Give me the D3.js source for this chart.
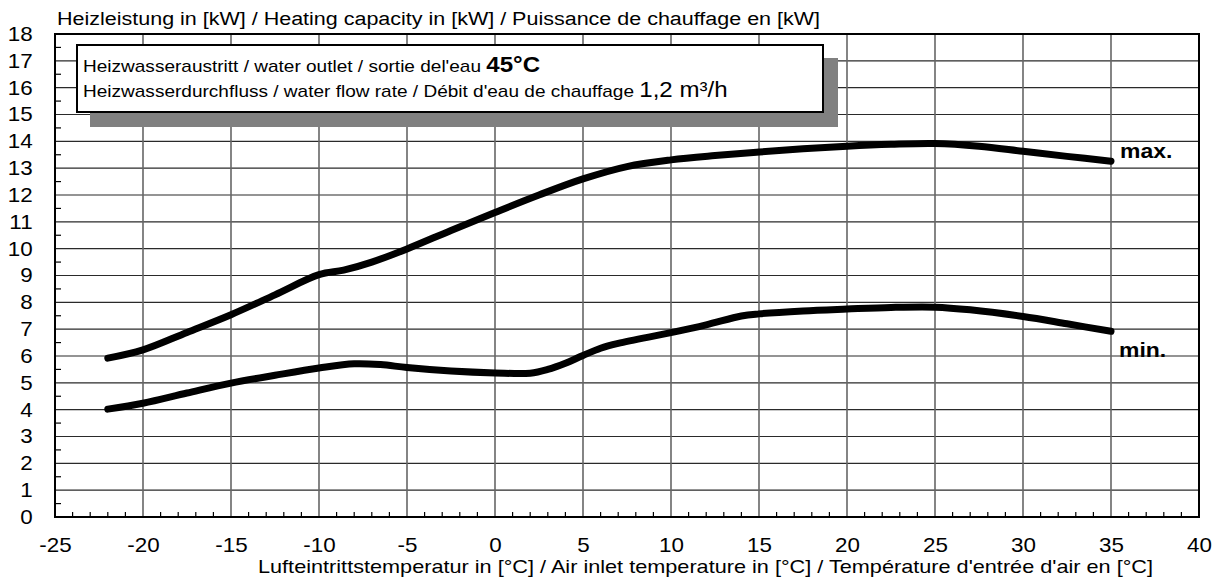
<!DOCTYPE html>
<html>
<head>
<meta charset="utf-8">
<script src="https://cdn.jsdelivr.net/npm/d3@7"></script>
<style>
  html, body { margin: 0; padding: 0; background: #fff; }
  svg { display: block; font-family: "Liberation Sans", Arial, sans-serif; }
</style>
</head>
<body>
<svg id="chart" width="1222" height="580"></svg>
<script>
// Air inlet temperature (°C) and heating capacity (kW)
const maxTemps  = [-22, -20, -17.5, -15, -12.5, -10, -8.6, -7, -5, -2.5, 0, 2.5, 5, 7.5, 10, 12.5, 15, 17.5, 20, 22.5, 25, 27.5, 30, 32.5, 35];
const maxPower  = [5.92, 6.23, 6.88, 7.54, 8.28, 9.03, 9.2, 9.5, 9.99, 10.68, 11.35, 12.0, 12.6, 13.06, 13.31, 13.47, 13.6, 13.72, 13.82, 13.89, 13.92, 13.82, 13.63, 13.44, 13.26];
const minTemps  = [-22, -20, -17.5, -15, -12.5, -10, -8, -6.5, -5, -2.5, 0, 2, 3, 4, 5, 6, 7, 10, 12, 14, 15, 17.5, 20, 22.5, 25, 27, 30, 32.5, 35];
const minPower  = [4.02, 4.24, 4.62, 4.99, 5.28, 5.55, 5.71, 5.68, 5.57, 5.44, 5.37, 5.36, 5.5, 5.73, 6.02, 6.29, 6.47, 6.87, 7.16, 7.49, 7.57, 7.68, 7.75, 7.81, 7.82, 7.72, 7.47, 7.2, 6.92];
const seriesNames = ["max.", "min."];

const xTicks = [-25, -20, -15, -10, -5, 0, 5, 10, 15, 20, 25, 30, 35, 40];
const yTicks = [0, 1, 2, 3, 4, 5, 6, 7, 8, 9, 10, 11, 12, 13, 14, 15, 16, 17, 18];

const yTitle = "Heizleistung in [kW] / Heating capacity in [kW] / Puissance de chauffage en [kW]";
const xTitle = "Lufteintrittstemperatur in [°C] / Air inlet temperature in [°C] / Température d'entrée d'air en [°C]";
const infoLine1 = ["Heizwasseraustritt / water outlet / sortie del'eau ", "45°C"];
const infoLine2 = ["Heizwasserdurchfluss / water flow rate / Débit d'eau de chauffage ", "1,2 m³/h"];

// Layout
const SX = 1.12; // horizontal glyph stretch
const plotL = 55, plotR = 1199, plotT = 34, plotB = 517;

const svg = d3.select("#chart");
const x = d3.scaleLinear().domain([-25, 40]).range([plotL, plotR]);
const y = d3.scaleLinear().domain([0, 18]).range([plotB, plotT]);

// Grid
const grid = svg.append("g");
grid.selectAll("line.h").data(d3.range(1, 18)).join("line")
  .attr("class", "h")
  .attr("x1", plotL).attr("x2", plotR)
  .attr("y1", d => y(d)).attr("y2", d => y(d))
  .attr("stroke", "#2a2a2a").attr("stroke-width", 1.2);
grid.selectAll("line.v").data(xTicks.filter(t => t > -25 && t < 40)).join("line")
  .attr("class", "v")
  .attr("x1", d => x(d)).attr("x2", d => x(d))
  .attr("y1", plotT).attr("y2", plotB)
  .attr("stroke", "#666").attr("stroke-width", 1.6);

// Minor ticks (inward)
const minorX = d3.range(-24, 40).filter(v => v % 5 !== 0);
svg.append("g").selectAll("line").data(minorX).join("line")
  .attr("x1", d => x(d)).attr("x2", d => x(d))
  .attr("y1", plotB).attr("y2", plotB - 5)
  .attr("stroke", "#000").attr("stroke-width", 1.2);
const minorY = d3.range(0.5, 18, 1);
svg.append("g").selectAll("line").data(minorY).join("line")
  .attr("x1", plotL).attr("x2", plotL + 6)
  .attr("y1", d => y(d)).attr("y2", d => y(d))
  .attr("stroke", "#000").attr("stroke-width", 1.2);

// Frame
svg.append("rect")
  .attr("x", plotL).attr("y", plotT)
  .attr("width", plotR - plotL).attr("height", plotB - plotT)
  .attr("fill", "none").attr("stroke", "#000").attr("stroke-width", 2);

// Axis labels
const xAxis = svg.append("g")
  .attr("transform", `translate(0,${plotB})`)
  .call(d3.axisBottom(x).tickValues(xTicks).tickSize(0).tickPadding(20.5).tickFormat(d => String(d)));
xAxis.select(".domain").remove();
xAxis.selectAll("text")
  .attr("font-size", 20).attr("fill", "#000")
  .attr("font-family", "Liberation Sans, Arial, sans-serif")
  .attr("transform", `scale(${SX},1)`);

const yAxis = svg.append("g")
  .attr("transform", `translate(${plotL},0)`)
  .call(d3.axisLeft(y).tickValues(yTicks).tickSize(0).tickPadding(20).tickFormat(d => String(d)));
yAxis.select(".domain").remove();
yAxis.selectAll("text")
  .attr("font-size", 20).attr("fill", "#000")
  .attr("font-family", "Liberation Sans, Arial, sans-serif")
  .attr("transform", `scale(${SX},1)`);

// Titles
svg.append("text")
  .attr("x", 57).attr("y", 25)
  .attr("font-size", 18)
  .attr("textLength", 763).attr("lengthAdjust", "spacingAndGlyphs")
  .text(yTitle);
svg.append("text")
  .attr("x", 258).attr("y", 573)
  .attr("font-size", 18.5)
  .attr("textLength", 895).attr("lengthAdjust", "spacingAndGlyphs")
  .text(xTitle);

// Info box with drop shadow
svg.append("rect").attr("x", 90).attr("y", 58).attr("width", 748).attr("height", 69).attr("fill", "#808080");
svg.append("rect").attr("x", 77).attr("y", 45).attr("width", 746).attr("height", 67)
  .attr("fill", "#fff").attr("stroke", "#000").attr("stroke-width", 2);
const l1 = svg.append("text").attr("transform", `translate(83,72) scale(${SX},1)`).attr("font-size", 17);
l1.append("tspan").text(infoLine1[0]);
l1.append("tspan").attr("font-size", 21.5).attr("font-weight", "bold").text(infoLine1[1]);
const l2 = svg.append("text").attr("transform", `translate(83,97) scale(${SX},1)`).attr("font-size", 17);
l2.append("tspan").text(infoLine2[0]);
l2.append("tspan").attr("font-size", 21.5).text(infoLine2[1]);

// Curves
const line = d3.line()
  .x(d => x(d[0])).y(d => y(d[1]))
  .curve(d3.curveCatmullRom.alpha(0.5));
const series = [
  { name: seriesNames[0], pts: d3.zip(maxTemps, maxPower) },
  { name: seriesNames[1], pts: d3.zip(minTemps, minPower) }
];
svg.append("g").selectAll("path").data(series).join("path")
  .attr("d", d => line(d.pts))
  .attr("fill", "none").attr("stroke", "#000")
  .attr("stroke-width", 7).attr("stroke-linecap", "round").attr("stroke-linejoin", "round");

// Series labels near the right end
svg.append("text")
  .attr("transform", `translate(${x(35) + 9},${y(maxPower[maxPower.length - 1]) - 3}) scale(${SX},1)`)
  .attr("font-size", 20.5).attr("font-weight", "bold").text(seriesNames[0]);
svg.append("text")
  .attr("transform", `translate(${x(35) + 8},${y(minPower[minPower.length - 1]) + 26}) scale(${SX},1)`)
  .attr("font-size", 20.5).attr("font-weight", "bold").text(seriesNames[1]);
</script>
</body>
</html>
